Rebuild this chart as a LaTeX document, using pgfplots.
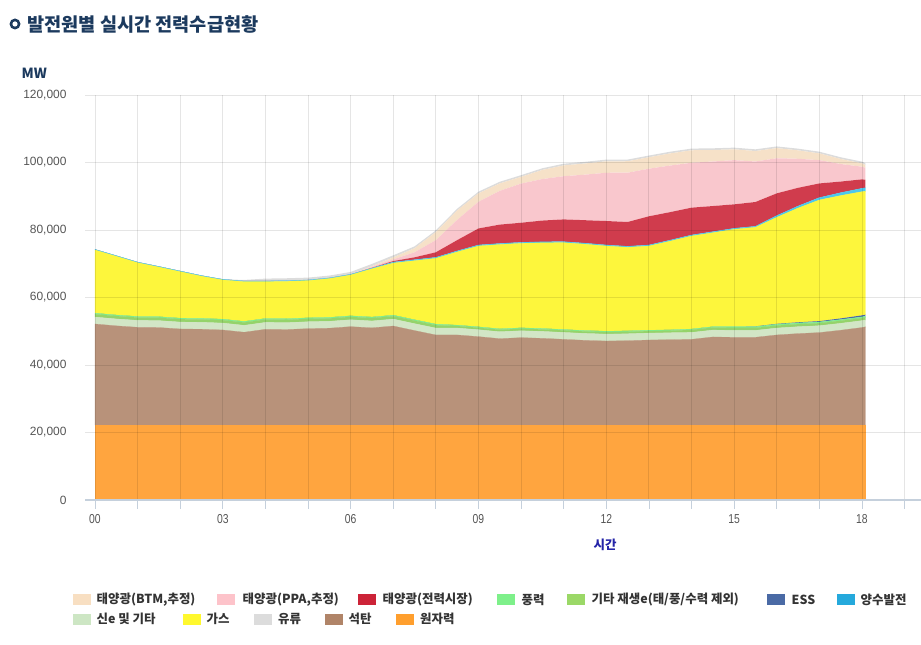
\documentclass[border=0pt]{standalone}
\usepackage{fontspec}
\usepackage{pgfplots}
\usepackage{pgfplotstable}
\pgfplotsset{compat=1.18}
\setmainfont{Noto Sans CJK KR}
\newfontfamily\numfont{Liberation Sans}
\newfontfamily\narrowfont[FakeStretch=0.8]{Liberation Sans}

\definecolor{cNuc}{HTML}{FFA53F}
\definecolor{cCoal}{HTML}{B8927A}
\definecolor{cNewe}{HTML}{D2E6C6}
\definecolor{cRenew}{HTML}{95D36A}
\definecolor{cWind}{HTML}{7DEE8E}
\definecolor{cEss}{HTML}{4A68A8}
\definecolor{cGas}{HTML}{FDF63C}
\definecolor{cPump}{HTML}{4CC8EE}
\definecolor{cSolm}{HTML}{D03C4D}
\definecolor{cPPA}{HTML}{F9C7CD}
\definecolor{cBTM}{HTML}{F6E1C8}
\definecolor{cOil}{HTML}{DCDCDC}

\definecolor{lNuc}{HTML}{FF9F2E}
\definecolor{lCoal}{HTML}{B08468}
\definecolor{lNewe}{HTML}{CDE6C4}
\definecolor{lRenew}{HTML}{9BD867}
\definecolor{lWind}{HTML}{7EF08A}
\definecolor{lEss}{HTML}{4A6AA5}
\definecolor{lPump}{HTML}{25A9DC}
\definecolor{lGas}{HTML}{FFF82E}
\definecolor{lOil}{HTML}{DCDCDC}
\definecolor{lSolm}{HTML}{CC2338}
\definecolor{lPPA}{HTML}{FDC3CA}
\definecolor{lBTM}{HTML}{F8DFC2}

\definecolor{titleblue}{HTML}{1C3A5E}
\definecolor{axisblue}{HTML}{C5D0DC}
\definecolor{labelgray}{HTML}{555555}
\definecolor{xlabblue}{HTML}{2424A8}
\definecolor{legtext}{HTML}{333333}

\pgfplotstableread{
t nuc coal newe renew wind ess gas pump solm ppa btm oil
0 22200 29950 2050 850 300 0 18720 200 0 0 0 0
0.5 22200 29400 2050 850 300 0 17400 200 0 0 0 0
1 22200 28970 2050 850 300 0 15930 200 0 0 0 0
1.5 22200 28900 2050 850 300 0 14700 200 0 0 0 0
2 22200 28470 2050 850 300 0 13780 200 0 0 0 0
2.5 22200 28400 2050 850 300 0 12500 200 0 0 0 0
3 22200 28170 2050 850 300 0 11620 200 0 0 0 0
3.5 22200 27500 2050 850 300 0 11800 200 0 0 0 300
4 22200 28370 2050 850 300 0 10930 200 0 0 0 700
4.5 22200 28300 2050 850 300 0 11100 200 0 0 0 700
5 22200 28570 2050 850 300 0 11020 200 0 0 0 700
5.5 22200 28700 2050 850 300 0 11500 200 0 0 0 700
6 22200 29160 2050 850 300 0 12110 200 0 0 0 700
6.5 22200 28800 2050 850 300 0 14300 200 100 300 200 650
7 22200 29350 2050 850 300 0 15450 300 300 500 600 600
7.5 22200 28000 2050 850 300 0 17500 300 700 1500 1200 550
8 22200 26690 2050 850 300 0 19510 300 1500 3600 2400 500
8.5 22200 26700 2050 600 250 0 21700 300 3200 6000 2800 500
9 22200 26200 2050 600 250 0 23960 300 4900 7900 2500 500
9.5 22200 25600 2050 600 250 0 25000 300 5600 10000 2200 500
10 22200 25900 2050 600 250 0 25050 300 5800 11600 2000 500
10.5 22200 25700 2050 600 250 0 25400 300 6300 12300 2700 500
11 22200 25400 2050 600 250 0 25740 300 6600 12800 3200 500
11.5 22200 25100 2050 600 250 0 25600 300 6800 13500 3300 500
12 22200 24900 2050 600 250 0 25260 300 7100 14300 3400 500
12.5 22200 25000 2050 600 250 0 24770 300 7200 14600 3400 500
13 22200 25200 2050 600 250 0 24960 300 8500 14100 3400 500
13.5 22200 25300 2050 600 250 0 26300 300 8300 13800 3600 500
14 22200 25400 2050 750 250 0 27570 300 8100 13300 3700 500
14.5 22200 26100 2050 750 250 0 27850 300 7600 13200 3400 500
15 22200 26000 2050 750 350 0 28850 300 7100 13100 3200 500
15.5 22200 26000 2050 750 350 100 29350 300 7200 12000 3100 500
16 22200 26700 2050 750 350 150 31560 500 6600 10400 3000 500
16.5 22200 27100 2050 750 350 200 33850 600 5400 8600 2500 500
17 22200 27400 2050 750 350 250 35900 700 4200 6900 2000 500
17.5 22200 28100 2050 750 350 350 36400 850 3300 5200 1500 500
18 22200 28900 2050 750 350 450 36650 1000 2650 3750 1000 500
18.08 22200 29100 2050 750 350 450 36600 1000 2400 3500 900 500
}\gendata

\begin{document}
\begin{tikzpicture}
\useasboundingbox (0,0) rectangle (921bp,645bp);
% title
\fill[titleblue] (15bp,621bp) circle (5.5bp);
\fill[white] (15bp,621bp) circle (2.6bp);
\node[anchor=west, inner sep=0pt, text=titleblue, font=\fontsize{18.7}{20}\selectfont\bfseries] at (27bp,621bp) {발전원별 실시간 전력수급현황};
\node[anchor=west, inner sep=0pt, text=titleblue, font=\fontsize{14}{16}\selectfont\bfseries] at (21.5bp,572bp) {MW};

\begin{axis}[
  at={(85bp,145bp)}, anchor=south west,
  width=836bp, height=405bp, scale only axis,
  xmin=-0.2347, xmax=19.385, ymin=0, ymax=120000,
  stack plots=y,
  axis on top,
  axis x line*=bottom, axis y line*=left,
  y axis line style={draw=none},
  x axis line style={draw=axisblue, line width=1.6bp, -},
  xtick={0,...,19},
  xticklabels={00,,,03,,,06,,,09,,,12,,,15,,,18,},
  ytick={0,20000,40000,60000,80000,100000,120000},
  scaled y ticks=false,
  /pgf/number format/.cd, fixed, 1000 sep={,}, assume math mode=true,
  /pgfplots/.cd,
  tick align=outside,
  major tick length=9bp,
  xtick style={draw=axisblue, line width=0.8bp},
  ytick style={draw=none},
  yticklabel style={font=\numfont\fontsize{12}{14}\selectfont, text=labelgray, anchor=east, xshift=-6bp},
  xticklabel style={font=\narrowfont\fontsize{13}{15}\selectfont, text=labelgray, yshift=-2bp},
  grid=major,
  major grid style={draw=black, opacity=0.10, line width=0.9bp},
]
\addplot[fill=cNuc, draw=cNuc, line width=0.25bp] table[x=t,y=nuc]{\gendata} \closedcycle;
\addplot[fill=cCoal, draw=cCoal, line width=0.25bp] table[x=t,y=coal]{\gendata} \closedcycle;
\addplot[fill=cNewe, draw=cNewe, line width=0.25bp] table[x=t,y=newe]{\gendata} \closedcycle;
\addplot[fill=cRenew, draw=cRenew, line width=0.25bp] table[x=t,y=renew]{\gendata} \closedcycle;
\addplot[fill=cWind, draw=cWind, line width=0.25bp] table[x=t,y=wind]{\gendata} \closedcycle;
\addplot[fill=cEss, draw=none] table[x=t,y=ess]{\gendata} \closedcycle;
\addplot[fill=cGas, draw=cGas, line width=0.25bp] table[x=t,y=gas]{\gendata} \closedcycle;
\addplot[fill=cPump, draw=cPump, line width=0.25bp] table[x=t,y=pump]{\gendata} \closedcycle;
\addplot[fill=cSolm, draw=none] table[x=t,y=solm]{\gendata} \closedcycle;
\addplot[fill=cPPA, draw=none] table[x=t,y=ppa]{\gendata} \closedcycle;
\addplot[fill=cBTM, draw=none] table[x=t,y=btm]{\gendata} \closedcycle;
\addplot[fill=cOil, draw=none] table[x=t,y=oil]{\gendata} \closedcycle;
\end{axis}

\node[inner sep=0pt, text=xlabblue, font=\fontsize{12.5}{14}\selectfont\bfseries] at (605bp,100bp) {시간};

% legend
\begin{scope}[every node/.style={anchor=west, inner sep=0pt, text=legtext, font=\fontsize{12.5}{14}\selectfont\bfseries}]
\fill[lBTM] (73bp,39.5bp) rectangle (91bp,50.5bp);   \node at (96.5bp,45bp) {태양광(BTM,추정)};
\fill[lPPA] (217bp,39.5bp) rectangle (235bp,50.5bp); \node at (242.5bp,45bp) {태양광(PPA,추정)};
\fill[lSolm] (358bp,39.5bp) rectangle (376bp,50.5bp); \node at (382.5bp,45bp) {태양광(전력시장)};
\fill[lWind] (497bp,39.5bp) rectangle (515bp,50.5bp); \node at (521.5bp,45bp) {풍력};
\fill[lRenew] (567bp,39.5bp) rectangle (585bp,50.5bp); \node at (591.5bp,45bp) {기타 재생e(태/풍/수력 제외)};
\fill[lEss] (767bp,39.5bp) rectangle (785bp,50.5bp); \node at (791.5bp,45bp) {ESS};
\fill[lPump] (837bp,39.5bp) rectangle (855bp,50.5bp); \node at (860.5bp,45bp) {양수발전};
\fill[lNewe] (73bp,20.2bp) rectangle (91bp,31.2bp); \node at (96.5bp,25.7bp) {신e 및 기타};
\fill[lGas] (183bp,20.2bp) rectangle (201bp,31.2bp); \node at (206.5bp,25.7bp) {가스};
\fill[lOil] (254bp,20.2bp) rectangle (272bp,31.2bp); \node at (278bp,25.7bp) {유류};
\fill[lCoal] (325bp,20.2bp) rectangle (343bp,31.2bp); \node at (348.5bp,25.7bp) {석탄};
\fill[lNuc] (396bp,20.2bp) rectangle (414bp,31.2bp); \node at (420bp,25.7bp) {원자력};
\end{scope}
\end{tikzpicture}
\end{document}
